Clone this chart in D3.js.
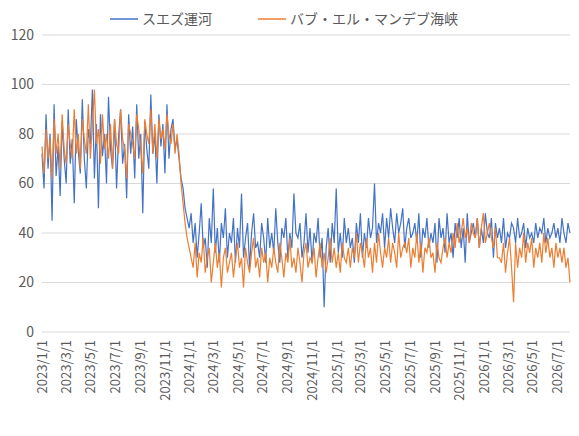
<!DOCTYPE html>
<html lang="ja">
<head>
<style>
  body, html { margin: 0; background: #fff; }
  svg { display: block; font-family: "Noto Sans CJK JP", "Noto Sans", sans-serif; }
</style>
<script src="https://d3js.org/d3.v7.min.js"></script>
</head>
<body>
<svg width="579" height="436"></svg>
<script>
// values sampled every 5 days from 2023/1/1
const startDate = new Date(2023, 0, 1);
const stepDays = 5;
const seriesNames = ["スエズ運河", "バブ・エル・マンデブ海峡"];
const seriesColors = ["#4472C4", "#ED7D31"];
const yTicks = [0, 20, 40, 60, 80, 100, 120];

const suez = [
  72,58,88,66,80,45,92,63,75,55,85,70,60,90,68,78,52,86,73,64,94,70,58,82,76,98,62,84,50,88,71,80,60,95,74,66,86,58,79,90,68,76,54,88,72,83,62,92,70,80,48,85,74,66,96,72,80,60,88,75,84,64,92,70,82,86,74,
  78,70,62,58,50,46,42,
  48,36,44,30,40,52,34,38,26,46,36,58,32,42,28,44,38,50,30,40,
  36,46,28,42,34,56,30,38,44,26,40,48,34,36,30,44,38,28,46,34,
  40,32,50,36,28,42,38,46,30,40,34,56,40,38,44,30,36,48,32,42,
  28,40,36,46,30,38,10,34,42,28,44,36,58,32,40,30,46,36,42,34,
  38,28,44,36,48,30,40,34,46,38,42,60,36,44,40,48,34,46,38,50,
  42,36,48,40,44,50,34,42,46,38,40,44,36,48,30,42,38,46,34,40,
  36,44,28,46,38,42,32,48,36,40,30,44,38,46,34,42,28,48,36,40,
  44,38,46,34,42,36,48,40,38,46,
  30,44,38,42,36,46,34,40,38,44,42,36,46,38,40,44,34,42,38,40,36,44,38,42,40,46,36,42,38,40,44,38,42,36,46,40,
  36,44,40
];
const babElMandeb = [
  75,64,82,70,78,62,86,72,80,66,88,74,68,84,76,70,90,72,80,66,86,78,72,92,70,84,98,76,82,68,88,74,80,70,84,66,86,76,72,90,78,74,62,84,80,76,70,88,82,74,64,86,80,76,90,72,84,70,86,78,82,74,88,80,76,84,72,
  80,72,60,52,44,38,34,
  30,26,36,22,32,28,38,24,30,34,20,28,36,26,32,18,30,34,24,28,
  32,22,30,36,26,30,18,34,28,24,32,38,26,30,22,34,28,32,20,30,
  26,34,28,24,36,30,22,32,28,38,26,30,24,34,28,20,32,36,26,30,
  28,34,22,30,36,26,32,24,30,38,28,34,26,32,24,36,30,28,34,26,
  34,30,40,28,36,32,26,38,30,34,24,36,28,40,32,26,34,30,38,28,
  36,32,26,40,30,34,
  36,32,38,26,34,30,40,28,36,24,34,32,38,30,
  32,24,36,30,28,34,38,30,36,32,40,34,44,36,40,46,38,42,36,44,
  40,38,46,34,42,48,36,40,44,38,34,42,30,30,28,36,24,32,38,26,
  12,
  36,26,34,30,40,28,36,32,38,26,34,30,36,28,40,32,38,30,34,26,36,30,34,28,34,26,30,20
];

const svg = d3.select("svg");
const margin = { left: 42, right: 9, top: 35, bottom: 104 };
const W = 579, H = 436;

const dateAt = i => d3.timeDay.offset(startDate, i * stepDays);
const endDate = dateAt(suez.length - 1);

const x = d3.scaleTime().domain([startDate, endDate]).range([margin.left, W - margin.right]);
const y = d3.scaleLinear().domain([0, 120]).range([H - margin.bottom, margin.top]);

// grid
svg.append("g").selectAll("line").data(yTicks).join("line")
  .attr("x1", margin.left).attr("x2", W - margin.right)
  .attr("y1", d => y(d)).attr("y2", d => y(d))
  .attr("stroke", "#d9d9d9").attr("stroke-width", 1);

// y labels
svg.append("g").selectAll("text").data(yTicks).join("text")
  .attr("x", margin.left - 8).attr("y", d => y(d)).attr("dy", "0.35em")
  .attr("text-anchor", "end").attr("font-size", 14).attr("fill", "#595959")
  .text(d => d);

// x labels every 2 months
const xTicks = d3.timeMonth.every(2).range(startDate, endDate);
svg.append("g").selectAll("text").data(xTicks).join("text")
  .attr("transform", d => `translate(${x(d) + 5},${H - margin.bottom + 8}) rotate(-90)`)
  .attr("text-anchor", "end").attr("font-size", 13).attr("fill", "#595959")
  .text(d => `${d.getFullYear()}/${d.getMonth() + 1}/1`);

const line = d3.line().x((d, i) => x(dateAt(i))).y(d => y(d));
[suez, babElMandeb].forEach((s, k) => {
  svg.append("path").datum(s)
    .attr("fill", "none").attr("stroke", seriesColors[k])
    .attr("stroke-width", 1.2).attr("d", line);
});

// legend
const legend = svg.append("g");
const lx = [110, 258];
seriesNames.forEach((n, k) => {
  legend.append("line").attr("x1", lx[k]).attr("x2", lx[k] + 28)
    .attr("y1", 19).attr("y2", 19).attr("stroke", seriesColors[k]).attr("stroke-width", 1.5);
  legend.append("text").attr("x", lx[k] + 32).attr("y", 19).attr("dy", "0.35em")
    .attr("font-size", 14).attr("fill", "#595959").text(n);
});
</script>
</body>
</html>
